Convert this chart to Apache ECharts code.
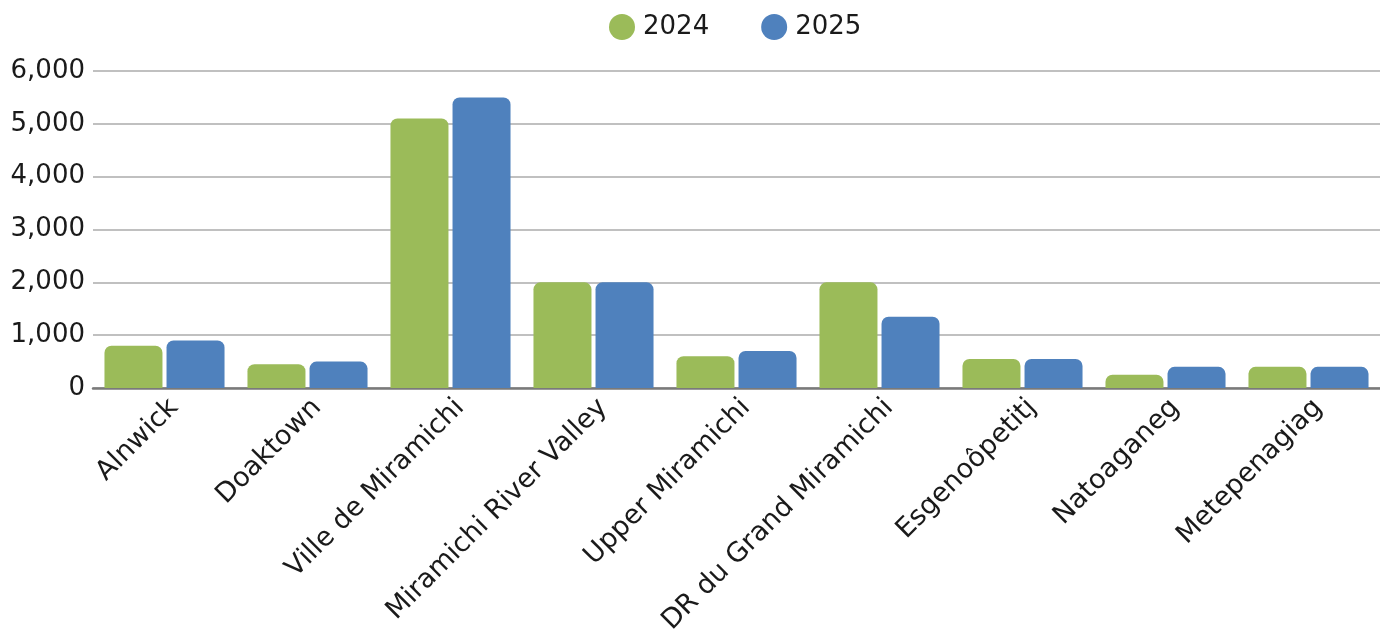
<!DOCTYPE html>
<html><head><meta charset="utf-8">
<script src="https://cdn.jsdelivr.net/npm/echarts@6/dist/echarts.min.js"></script>
<style>html,body{margin:0;padding:0;background:#fff}#c{width:1380px;height:638px}</style>
</head><body><div id="c"></div>
<script>
const categories = ["Alnwick","Doaktown","Ville de Miramichi","Miramichi River Valley","Upper Miramichi","DR du Grand Miramichi","Esgenoôpetitj","Natoaganeg","Metepenagiag"];
const values2024 = [800, 450, 5100, 2000, 600, 2000, 550, 250, 400];
const values2025 = [900, 500, 5500, 2000, 700, 1350, 550, 400, 400];
const seriesNames = ["2024","2025"];
const FONT = "'DejaVu Sans', sans-serif";
const chart = echarts.init(document.getElementById('c'));
chart.setOption({
  animation:false,
  legend:{top:9,left:604,icon:'circle',itemWidth:26,itemHeight:26,itemGap:52,
    textStyle:{fontFamily:FONT,fontSize:26,color:'#1a1a1a',padding:[0,0,0,3]}},
  grid:{left:93,right:-8,top:71,bottom:250,containLabel:false},
  xAxis:{type:'category',data:categories,
    axisLine:{lineStyle:{color:'#7a7a7a',width:2.5}},axisTick:{show:false},
    axisLabel:{rotate:45,interval:0,margin:6,verticalAlign:'top',fontFamily:FONT,fontSize:27,color:'#1a1a1a'}},
  yAxis:{type:'value',min:0,max:6000,interval:1000,
    axisLine:{show:false},axisTick:{show:false},
    splitLine:{lineStyle:{color:'#c0c0c0',width:2}},
    axisLabel:{margin:8,fontFamily:FONT,fontSize:26,color:'#1a1a1a',
      formatter:v=>v.toLocaleString('en-US')}},
  series:[
    {name:seriesNames[0],type:'bar',data:values2024,barWidth:58,barGap:'7%',
     itemStyle:{color:'#9bbb59',borderRadius:[7,7,0,0]}},
    {name:seriesNames[1],type:'bar',data:values2025,barWidth:58,
     itemStyle:{color:'#4f81bd',borderRadius:[7,7,0,0]}}
  ]
});
</script></body></html>
